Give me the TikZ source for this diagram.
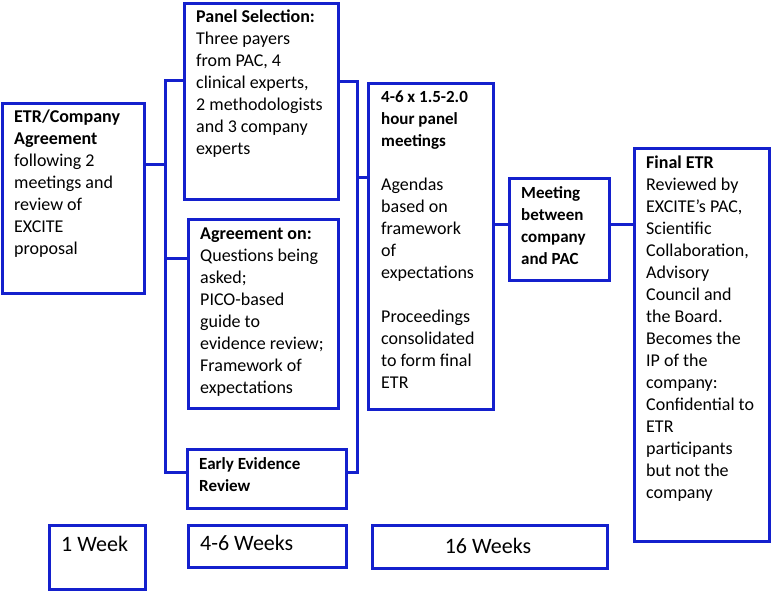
\documentclass[tikz,border=0pt]{standalone}
\usepackage{fontspec}
\setmainfont{Carlito}
\definecolor{bl}{RGB}{20,32,205}
\begin{document}
\begin{tikzpicture}[x=1pt,y=-1pt,
  box/.style={draw=bl,line width=3pt,anchor=north west,inner sep=0pt},
  txt/.style={anchor=north west,inner sep=0pt,align=left,font=\fontsize{18}{22}\selectfont},
  con/.style={draw=bl,line width=3pt}]
\useasboundingbox (0,0) rectangle (771,590);
% boxes
\node[box,minimum width=142,minimum height=190] (etr) at (1,102) {};
\node[box,minimum width=154,minimum height=196] (panel) at (183,2) {};
\node[box,minimum width=150,minimum height=189] (agree) at (187,218) {};
\node[box,minimum width=159,minimum height=59] (early) at (186,448) {};
\node[box,minimum width=125,minimum height=326] (meet) at (367,82) {};
\node[box,minimum width=100,minimum height=102] (comp) at (508,177) {};
\node[box,minimum width=135,minimum height=393] (final) at (633,147) {};
\node[box,minimum width=96,minimum height=64] (w1) at (48,524) {};
\node[box,minimum width=158,minimum height=42] (w2) at (187,524) {};
\node[box,minimum width=235,minimum height=43] (w3) at (371,524) {};
% texts
\node[txt] (t1) at (14,110) {\textbf{ETR/Company}\\\textbf{Agreement}\\following 2\\meetings and\\review of\\EXCITE\\proposal};
\node[txt] (t2) at (196,10) {\textbf{Panel Selection:}\\Three payers\\from PAC, 4\\clinical experts,\\2 methodologists\\and 3 company\\experts};
\node[txt] (t3) at (200,228) {\textbf{Agreement on:}\\Questions being\\asked;\\PICO-based\\guide to\\evidence review;\\Framework of\\expectations};
\node[txt,font=\fontsize{17}{22}\selectfont\bfseries] (t4) at (199,457) {Early Evidence\\Review};
\node[txt] (t5) at (381,91) {\fontsize{17}{22}\selectfont\textbf{4-6 x 1.5-2.0}\\\fontsize{17}{22}\selectfont\textbf{hour panel}\\\fontsize{17}{22}\selectfont\textbf{meetings}\\[22pt]Agendas\\based on\\framework\\of\\expectations\\[22pt]Proceedings\\consolidated\\to form final\\ETR};
\node[txt,font=\fontsize{17}{22}\selectfont\bfseries] (t6) at (521,186) {Meeting\\between\\company\\and PAC};
\node[txt] (t7) at (646,156) {\textbf{Final ETR}\\Reviewed by\\EXCITE’s PAC,\\Scientific\\Collaboration,\\Advisory\\Council and\\the Board.\\Becomes the\\IP of the\\company:\\Confidential to\\ETR\\participants\\but not the\\company};
\node[txt,font=\fontsize{22}{22}\selectfont] (t8) at (61,536) {1 Week};
\node[txt,font=\fontsize{22}{22}\selectfont] (t9) at (200,535) {4-6 Weeks};
\node[txt,font=\fontsize{22}{22}\selectfont,anchor=center] (t10) at (488,546) {16 Weeks};
% connectors
\coordinate (L1) at (165,80);
\coordinate (L2) at (165,472);
\coordinate (R1) at (357,81);
\coordinate (R2) at (357,472);
\draw[con] (etr.east |- 0,164) -- (L1 |- 0,164);
\draw[con] (panel.west |- L1) -- (L1) -- (L2) -- (early.west |- L2);
\draw[con] (L1 |- 0,258) -- (agree.west |- 0,258);
\draw[con] (panel.east |- R1) -- (R1) -- (R2) -- (early.east |- R2);
\draw[con] (R1 |- 0,177) -- (meet.west |- 0,177);
\draw[con] (meet.east |- 0,224) -- (comp.west |- 0,224);
\draw[con] (comp.east |- 0,224) -- (final.west |- 0,224);
\end{tikzpicture}
\end{document}
